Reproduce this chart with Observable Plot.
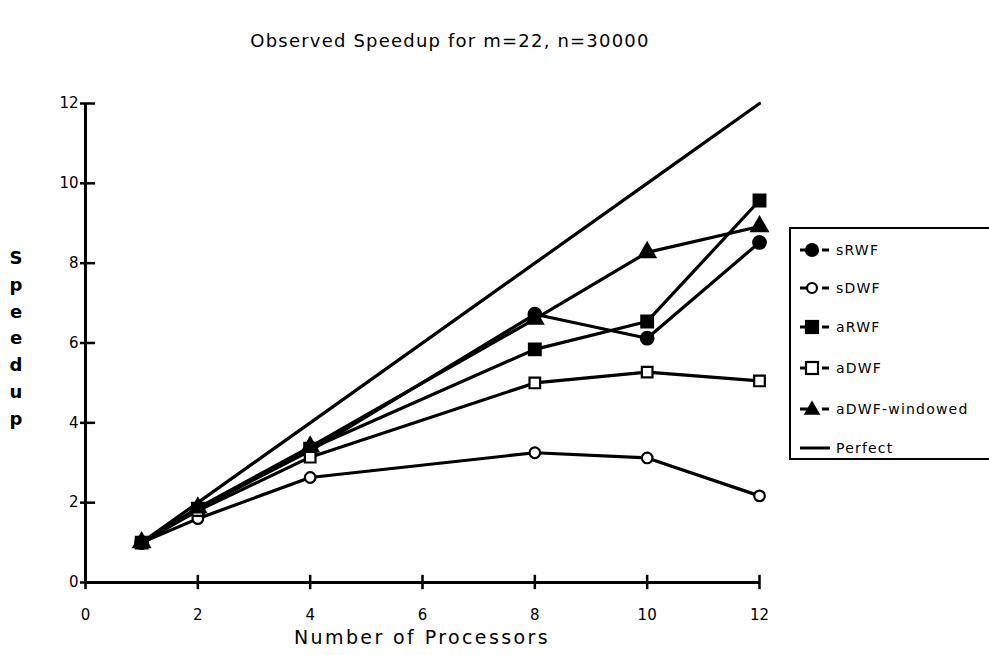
<!DOCTYPE html>
<html>
<head>
<meta charset="utf-8">
<script src="https://cdn.jsdelivr.net/npm/d3@7"></script>
<script src="https://cdn.jsdelivr.net/npm/@observablehq/plot@0.6"></script>
<style>
  body { margin: 0; background: #fff; }
  #wrap { position: relative; width: 989px; height: 655px; overflow: hidden; font-family: "DejaVu Sans", sans-serif; color: #000; }
  #title { position: absolute; left: 0; width: 900px; top: 30px; text-align: center; font-size: 18px; letter-spacing: 1.2px; }
  #ylab { position: absolute; left: 6px; top: 245px; width: 20px; text-align: center; font-size: 18px; line-height: 26.8px; font-weight: bold; }
  #xlab { position: absolute; left: 85px; width: 674px; top: 626px; text-align: center; font-size: 19px; letter-spacing: 2.4px; }
  #legend { position: absolute; left: 789px; top: 227px; width: 220px; height: 233px; border: 2.5px solid #000; box-sizing: border-box; }
  .item { position: absolute; left: 5px; height: 20px; display: flex; align-items: center; font-size: 14px; letter-spacing: 1.2px; }
  .item svg { margin-right: 4px; }
</style>
</head>
<body>
<div id="wrap">
  <div id="chart"></div>
  <div id="title">Observed Speedup for m=22, n=30000</div>
  <div id="ylab"></div>
  <div id="xlab">Number of Processors</div>
  <div id="legend"></div>
</div>
<script>
// ---- data ----
const processors = [1, 2, 4, 8, 10, 12];
const sRWF = [1.0, 1.85, 3.3, 6.72, 6.12, 8.52];
const sDWF = [1.0, 1.6, 2.63, 3.25, 3.12, 2.17];
const aRWF = [1.0, 1.85, 3.35, 5.84, 6.54, 9.57];
const aDWF = [1.0, 1.8, 3.14, 5.0, 5.27, 5.05];
const aDWFwindowed = [1.0, 1.87, 3.4, 6.6, 8.27, 8.92];
const perfect = [1, 2, 4, 8, 10, 12];
const seriesNames = ["sRWF", "sDWF", "aRWF", "aDWF", "aDWF-windowed", "Perfect"];
const xTicks = [0, 2, 4, 6, 8, 10, 12];
const yTicks = [0, 2, 4, 6, 8, 10, 12];
const title = "Observed Speedup for m=22, n=30000";
const yLabel = "Speedup";
const xLabel = "Number of Processors";

const seriesValues = [sRWF, sDWF, aRWF, aDWF, aDWFwindowed, perfect];
const data = seriesNames.flatMap((s, i) => processors.map((p, j) => ({series: s, x: p, y: seriesValues[i][j]})));
const styles = {
  "sRWF": {symbol: "circle", fill: "black", r: 6.3},
  "sDWF": {symbol: "circle", fill: "white", r: 5.3},
  "aRWF": {symbol: "square", fill: "black", r: 6.6},
  "aDWF": {symbol: "square", fill: "white", r: 6},
  "aDWF-windowed": {symbol: "triangle", fill: "black", r: 6}
};

const marks = [
  Plot.ruleX([0], {y1: 0, y2: 12, strokeWidth: 3}),
  Plot.ruleY([0], {x1: 0, x2: 12, strokeWidth: 3}),
  Plot.ruleY(yTicks, {x1: -0.09, x2: 0.18, strokeWidth: 2.5}),
  Plot.ruleX(xTicks, {y1: -0.18, y2: 0.18, strokeWidth: 2.5}),
  Plot.axisY(yTicks, {tickSize: 0, tickPadding: 7, label: null, fontSize: 15}),
  Plot.axisX(xTicks, {tickSize: 0, tickPadding: 27, label: null, fontSize: 15}),
  Plot.line(data, {x: "x", y: "y", z: "series", stroke: "black", strokeWidth: 3.2})
];
for (const s of seriesNames.slice(0, 5)) {
  const st = styles[s];
  marks.push(Plot.dot(data.filter(d => d.series === s), {
    x: "x", y: "y", symbol: st.symbol, r: st.r, fill: st.fill, stroke: "black", strokeWidth: 2.2
  }));
}

const chart = Plot.plot({
  width: 989, height: 655,
  marginLeft: 85, marginRight: 230, marginTop: 103, marginBottom: 73,
  x: {domain: [0, 12]},
  y: {domain: [0, 12]},
  style: {fontFamily: "DejaVu Sans, sans-serif", fontSize: "15px", color: "black", background: "white"},
  marks
});
document.getElementById("chart").appendChild(chart);

document.getElementById("title").textContent = title;
document.getElementById("xlab").textContent = xLabel;
document.getElementById("ylab").innerHTML = yLabel.split("").map(c => `<div>${c}</div>`).join("");

// legend
const legend = document.getElementById("legend");
const tops = [11, 49, 88, 129, 170, 209];
const symPaths = {
  circle: (f) => `<circle cx="16" cy="10" r="${f === 'black' ? 6 : 5}" fill="${f}" stroke="black" stroke-width="2.2"/>`,
  square: (f) => `<rect x="10" y="4" width="12" height="12" fill="${f}" stroke="black" stroke-width="2.2"/>`,
  triangle: (f) => `<path d="M16,3 L23,15 L9,15 Z" fill="${f}" stroke="black" stroke-width="1.5"/>`
};
seriesNames.forEach((s, i) => {
  const div = document.createElement("div");
  div.className = "item";
  div.style.top = tops[i] + "px";
  let svg;
  if (s === "Perfect") {
    svg = `<svg width="36" height="20"><line x1="4" x2="34" y1="10" y2="10" stroke="black" stroke-width="3"/></svg>`;
  } else {
    const st = styles[s];
    svg = `<svg width="36" height="20"><line x1="4" x2="12" y1="10" y2="10" stroke="black" stroke-width="3"/><line x1="26" x2="33" y1="10" y2="10" stroke="black" stroke-width="3"/>${symPaths[st.symbol](st.fill)}</svg>`;
  }
  div.innerHTML = svg + `<span>${s}</span>`;
  legend.appendChild(div);
});
</script>
</body>
</html>
